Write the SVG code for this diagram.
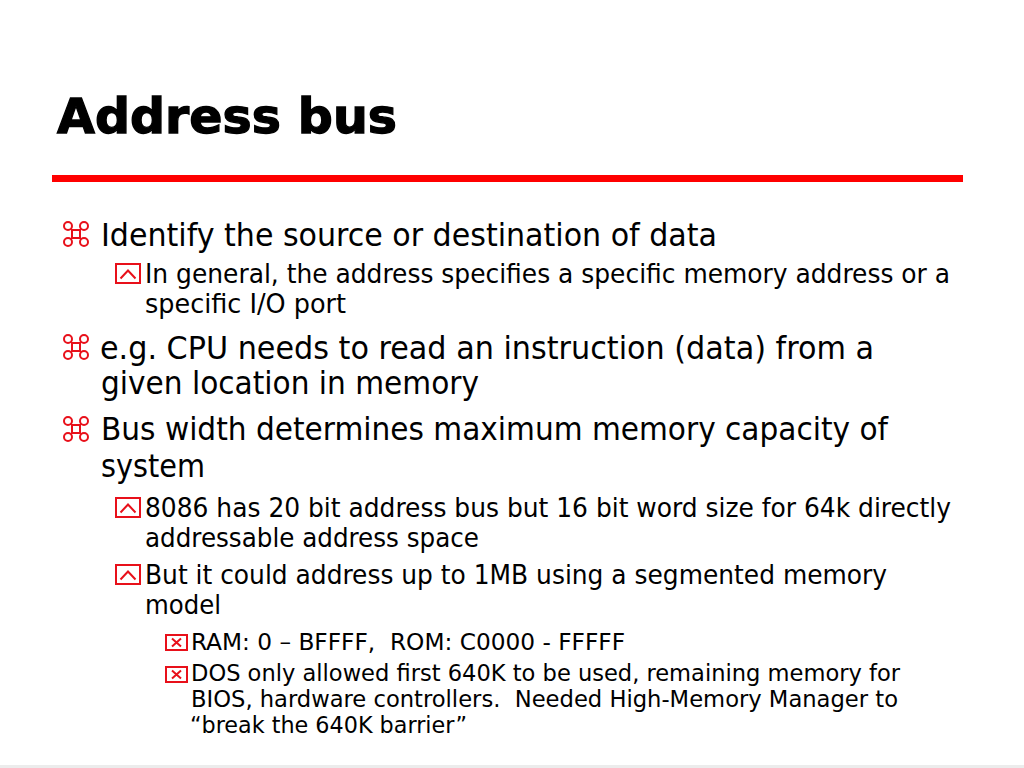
<svg xmlns="http://www.w3.org/2000/svg" xmlns:xlink="http://www.w3.org/1999/xlink" width="1024" height="768" viewBox="0 0 1024 768">
  <style>
    .title { font-family: "DejaVu Sans", "Liberation Sans", sans-serif; font-weight: bold; font-size: 48px; fill: #000; stroke: #000; stroke-width: 1.3; }
    .body { font-family: "DejaVu Sans Condensed", "DejaVu Sans", "Liberation Sans", sans-serif; font-stretch: condensed; fill: #000; }
    .l1 { font-size: 32px; }
    .l2 { font-size: 27px; }
    .l3 { font-size: 23px; }
    .bul { fill: none; stroke: #e8101a; stroke-width: 2; }
  </style>
  <defs>
    <g id="cmd">
      <rect x="-4" y="-4" width="8" height="8" class="bul" stroke-width="2.2"/>
      <circle cx="-8" cy="-8" r="4" class="bul" stroke-width="2.2"/>
      <circle cx="8" cy="-8" r="4" class="bul" stroke-width="2.2"/>
      <circle cx="-8" cy="8" r="4" class="bul" stroke-width="2.2"/>
      <circle cx="8" cy="8" r="4" class="bul" stroke-width="2.2"/>
    </g>
    <g id="chev">
      <rect x="0" y="0" width="24" height="19" class="bul"/>
      <polyline points="4.5,14.5 12,6.5 19.5,14.5" class="bul"/>
    </g>
    <g id="xbox">
      <rect x="0" y="0" width="21" height="15" class="bul"/>
      <path d="M6,3.5 L15,11.5 M15,3.5 L6,11.5" class="bul"/>
    </g>
  </defs>

  <rect x="0" y="0" width="1024" height="768" fill="#ffffff"/>
  <rect x="0" y="765" width="1024" height="3" fill="#ececec"/>

  <g id="title">
    <text class="title" x="57" y="133" textLength="340" lengthAdjust="spacingAndGlyphs">Address bus</text>
    <rect x="52" y="175" width="911" height="7" fill="#ff0000"/>
  </g>

  <g id="bullets">
    <use xlink:href="#cmd" x="76" y="234"/>
    <use xlink:href="#chev" x="116" y="264"/>
    <use xlink:href="#cmd" x="76" y="347"/>
    <use xlink:href="#cmd" x="76" y="429"/>
    <use xlink:href="#chev" x="116" y="498"/>
    <use xlink:href="#chev" x="116" y="565"/>
    <use xlink:href="#xbox" x="166" y="635"/>
    <use xlink:href="#xbox" x="166" y="667"/>
  </g>

  <g id="text" class="body">
    <text class="l1" x="101" y="246" textLength="616" lengthAdjust="spacingAndGlyphs">Identify the source or destination of data</text>
    <text class="l2" x="145" y="283" textLength="805" lengthAdjust="spacingAndGlyphs">In general, the address specifies a specific memory address or a</text>
    <text class="l2" x="145" y="313" textLength="201" lengthAdjust="spacingAndGlyphs">specific I/O port</text>
    <text class="l1" x="100" y="359" textLength="774" lengthAdjust="spacingAndGlyphs">e.g. CPU needs to read an instruction (data) from a</text>
    <text class="l1" x="101" y="394" textLength="378" lengthAdjust="spacingAndGlyphs">given location in memory</text>
    <text class="l1" x="101" y="440" textLength="787" lengthAdjust="spacingAndGlyphs">Bus width determines maximum memory capacity of</text>
    <text class="l1" x="101" y="477" textLength="104" lengthAdjust="spacingAndGlyphs">system</text>
    <text class="l2" x="145" y="517" textLength="806" lengthAdjust="spacingAndGlyphs">8086 has 20 bit address bus but 16 bit word size for 64k directly</text>
    <text class="l2" x="145" y="547" textLength="334" lengthAdjust="spacingAndGlyphs">addressable address space</text>
    <text class="l2" x="145" y="584" textLength="742" lengthAdjust="spacingAndGlyphs">But it could address up to 1MB using a segmented memory</text>
    <text class="l2" x="145" y="614" textLength="76" lengthAdjust="spacingAndGlyphs">model</text>
    <text class="l3" x="191" y="650" textLength="434" lengthAdjust="spacingAndGlyphs" xml:space="preserve">RAM: 0 – BFFFF,  ROM: C0000 - FFFFF</text>
    <text class="l3" x="191" y="681" textLength="709" lengthAdjust="spacingAndGlyphs">DOS only allowed first 640K to be used, remaining memory for</text>
    <text class="l3" x="191" y="707" textLength="707" lengthAdjust="spacingAndGlyphs" xml:space="preserve">BIOS, hardware controllers.  Needed High-Memory Manager to</text>
    <text class="l3" x="190" y="733" textLength="277" lengthAdjust="spacingAndGlyphs">“break the 640K barrier”</text>
  </g>
</svg>
